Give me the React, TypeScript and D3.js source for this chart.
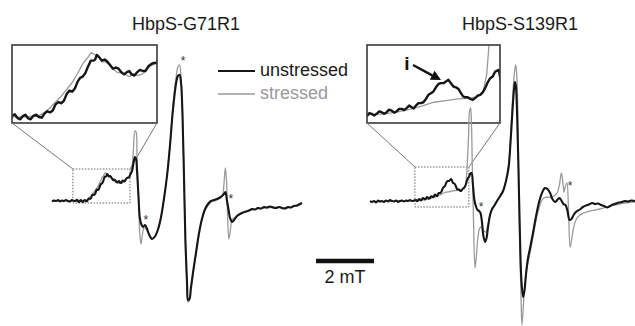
import React from 'react';
import * as d3 from 'd3';

type Pt = [number, number]; // [field (mT), intensity (a.u.)]

const titles = ['HbpS-G71R1', 'HbpS-S139R1'];
const legendLabels = ['unstressed', 'stressed'];
const scaleBarMT = 2;
const scaleBarLabel = '2 mT';
const insetLabel = 'i';

const g71Unstressed: Pt[] = [
  [0, -0.5], [0.07, 0.5], [0.14, 0], [0.21, 1], [0.28, -0.5], [0.34, 0.5], [0.41, 0], [0.48, 1], [0.55, 0], [0.62, -0.5],
  [0.69, 1], [0.76, 0], [0.83, 0.5], [0.865, 1.2], [0.9, -0.5], [0.935, -1], [0.97, 0.5], [1.0, 1], [1.03, -0.5], [1.065, -1],
  [1.1, 0.5], [1.135, 1], [1.17, 0], [1.205, -0.3], [1.24, 1.5], [1.275, 2.5], [1.31, 2], [1.345, 2.8], [1.38, 5.5], [1.415, 6.5],
  [1.45, 6], [1.485, 7], [1.52, 10], [1.555, 11.5], [1.59, 11], [1.625, 12.5], [1.66, 15.5], [1.69, 17], [1.72, 17.5], [1.755, 19],
  [1.79, 22], [1.825, 24.5], [1.86, 24.5], [1.88, 25], [1.9, 27], [1.93, 26], [1.965, 24.5], [2.0, 25], [2.035, 24], [2.07, 22.5],
  [2.105, 21], [2.14, 21.5], [2.175, 21], [2.21, 19.5], [2.245, 18.5], [2.28, 19.5], [2.31, 20], [2.34, 18.5], [2.375, 18], [2.41, 19.5],
  [2.445, 20.5], [2.48, 20], [2.515, 20], [2.55, 22], [2.585, 23], [2.62, 23.5], [2.655, 23.5], [2.69, 26],
  [2.76, 30], [2.81, 38], [2.86, 44], [2.9, 42], [2.93, 31], [2.98, 6], [3.03, -17], [3.09, -24], [3.14, -26],
  [3.21, -24], [3.28, -28], [3.34, -33], [3.45, -38], [3.55, -35.5], [3.66, -28], [3.76, -16], [3.86, 2], [3.97, 26], [4.07, 56],
  [4.17, 91], [4.28, 118], [4.34, 125], [4.4, 126], [4.45, 118], [4.5, 86], [4.55, 26], [4.6, -39], [4.66, -85], [4.69, -99],
  [4.74, -98], [4.79, -87], [4.86, -72], [4.97, -51], [5.07, -32], [5.17, -18], [5.28, -8], [5.38, -3], [5.48, 0], [5.59, 1],
  [5.69, 2], [5.79, 3.5], [5.86, 5], [5.93, 7], [5.98, 9], [6.03, 1], [6.09, -9], [6.14, -17], [6.21, -21], [6.28, -19],
  [6.38, -15], [6.48, -13], [6.59, -11.5], [6.69, -10.5], [6.79, -9.5], [6.9, -8], [7.0, -8.5], [7.1, -7], [7.21, -7.5], [7.31, -6],
  [7.41, -6.5], [7.52, -5.5], [7.62, -6.5], [7.72, -7], [7.83, -6], [7.93, -7], [8.03, -7.5], [8.14, -6], [8.24, -6.5], [8.34, -5],
  [8.45, -4.5], [8.55, -3], [8.62, -2],
];

const g71Stressed: Pt[] = [
  [0, 0], [0.28, 0], [0.62, 0], [0.97, 0], [1.17, 0.5], [1.24, 2], [1.31, 4], [1.38, 6.5], [1.45, 9], [1.52, 12],
  [1.59, 15], [1.66, 19], [1.72, 23], [1.79, 26], [1.83, 28], [1.93, 26], [1.965, 24], [2.0, 24], [2.05, 23], [2.1, 21],
  [2.155, 19.5], [2.21, 19], [2.26, 18.5], [2.31, 17.5], [2.36, 18.8], [2.41, 18], [2.465, 18.5], [2.52, 20], [2.57, 22], [2.62, 23],
  [2.655, 23.5], [2.69, 26], [2.76, 34], [2.81, 53], [2.86, 70], [2.9, 69], [2.93, 46], [2.98, 6],
  [3.03, -34], [3.07, -43], [3.12, -33], [3.17, -27], [3.24, -28], [3.34, -33], [3.45, -37.5], [3.55, -35.5], [3.66, -28], [3.76, -16],
  [3.86, 2], [3.97, 26], [4.07, 57], [4.17, 95], [4.28, 124], [4.34, 134], [4.4, 136], [4.45, 123], [4.5, 89], [4.55, 26],
  [4.6, -41], [4.66, -89], [4.69, -101], [4.74, -99], [4.79, -88], [4.86, -73], [4.97, -52], [5.07, -33], [5.17, -19], [5.28, -9],
  [5.38, -4.5], [5.48, -1.5], [5.59, 0], [5.69, 1], [5.79, 2.5], [5.86, 4], [5.91, 11], [5.95, 25], [5.98, 33], [6.02, 19],
  [6.05, -11], [6.1, -38], [6.16, -27], [6.21, -18], [6.28, -17], [6.38, -15], [6.48, -13.5], [6.66, -11], [6.83, -9.5], [7.17, -7.5],
  [7.52, -6.5], [7.86, -6.5], [8.21, -6.5], [8.62, -2.5],
];

const s139Unstressed: Pt[] = [
  [0, 0], [0.07, -1], [0.14, 0], [0.21, -1.5], [0.28, 0.5], [0.34, -0.5], [0.41, 0], [0.48, -1], [0.55, 0.5], [0.62, -0.5],
  [0.69, 1], [0.76, 0], [0.83, -0.5], [0.9, 0.5], [0.97, -1], [1.03, 0], [1.1, 0.5], [1.17, -0.5], [1.24, 0.5], [1.31, 0],
  [1.38, 1], [1.45, 0], [1.52, 0.5], [1.59, 1], [1.625, -0.3], [1.66, 0.5], [1.69, 2], [1.72, 1.5], [1.755, 0.5], [1.79, 1.5],
  [1.825, 3], [1.86, 2.5], [1.895, 1.5], [1.93, 2.5], [1.965, 4], [2.0, 3.5], [2.035, 2.2], [2.07, 3], [2.105, 4.5], [2.14, 4.5],
  [2.175, 3.8], [2.21, 5], [2.245, 6.5], [2.28, 5.5], [2.31, 4.8], [2.34, 6.5], [2.375, 8], [2.41, 8], [2.445, 8.5], [2.48, 10.5],
  [2.515, 13], [2.55, 14], [2.585, 15], [2.62, 17.5], [2.655, 19.5], [2.69, 20], [2.725, 20], [2.76, 21], [2.795, 22], [2.83, 20],
  [2.865, 18], [2.9, 17.5], [2.935, 16.5], [2.97, 14], [3.0, 12], [3.03, 11.5], [3.065, 11.5], [3.1, 10.5], [3.135, 10], [3.17, 11],
  [3.205, 12.5], [3.24, 13], [3.275, 14.5], [3.31, 17], [3.345, 20.5], [3.38, 23], [3.415, 24], [3.45, 27],
  [3.5, 28], [3.55, 16], [3.6, 1], [3.66, -6], [3.71, -9], [3.76, -10], [3.81, -12], [3.86, -21], [3.91, -35],
  [3.97, -41], [4.02, -37], [4.07, -26], [4.14, -14], [4.21, -8], [4.28, -5], [4.38, 0], [4.48, 4.5], [4.59, 10], [4.69, 20],
  [4.78, 34], [4.84, 56], [4.91, 89], [4.97, 113], [5.0, 119], [5.03, 115], [5.07, 89], [5.12, 31], [5.17, -34], [5.22, -79],
  [5.28, -96], [5.33, -89], [5.38, -73], [5.45, -57], [5.52, -47], [5.62, -32], [5.72, -16], [5.83, -1], [5.93, 8], [6.03, 13],
  [6.12, 12], [6.21, 8], [6.29, 2], [6.38, -1], [6.47, 1.5], [6.53, 3], [6.6, 0.5], [6.67, -3], [6.74, -4], [6.81, -10],
  [6.88, -19], [6.95, -18], [7.03, -13.5], [7.14, -10], [7.24, -8.5], [7.34, -6], [7.45, -4.5], [7.55, -3.5], [7.66, -2], [7.76, -3],
  [7.86, -2.5], [7.97, -4], [8.07, -5], [8.17, -6.5], [8.28, -5], [8.38, -3.5], [8.48, -2.5], [8.59, -1.5], [8.69, -1], [8.79, 0],
  [8.9, -0.5], [9.0, 0.5], [9.14, 0],
];

const s139Stressed: Pt[] = [
  [0, -0.5], [0.34, -0.5], [0.69, 0], [1.03, 0], [1.38, 0], [1.59, 0.5], [1.72, 1], [1.9, 1.5], [2.07, 2.5], [2.24, 4],
  [2.41, 6], [2.59, 8.5], [2.76, 9.5], [2.93, 10.5], [3.1, 11], [3.21, 12], [3.28, 15], [3.33, 25], [3.36, 41], [3.4, 66],
  [3.43, 89], [3.47, 93], [3.5, 76], [3.53, 31], [3.57, -19], [3.62, -67], [3.67, -54], [3.72, -37], [3.79, -27], [3.86, -26],
  [3.93, -30], [4.0, -31], [4.07, -23], [4.14, -14], [4.21, -8], [4.28, -4.5], [4.38, 0.5], [4.48, 5], [4.59, 11], [4.69, 21],
  [4.78, 36], [4.84, 61], [4.91, 99], [4.97, 125], [5.02, 136], [5.05, 131], [5.09, 101], [5.12, 41], [5.16, -34], [5.21, -99],
  [5.24, -124], [5.29, -104], [5.34, -82], [5.41, -67], [5.52, -52], [5.62, -36], [5.72, -20], [5.83, -7], [5.93, 1], [6.03, 3.5],
  [6.14, 4], [6.24, 3.5], [6.34, 5], [6.45, 8], [6.53, 16], [6.6, 28], [6.66, 16], [6.69, 9], [6.74, 15], [6.79, 18],
  [6.84, -4], [6.9, -46], [6.95, -39], [7.02, -27], [7.1, -19], [7.24, -14], [7.41, -11.5], [7.59, -10], [7.76, -9], [7.93, -8],
  [8.1, -6.5], [8.28, -5], [8.45, -4], [8.62, -3], [8.79, -2], [9.14, -1],
];

// asterisk annotations [field, intensity]
const g71Marks: Pt[] = [[3.24, -16], [4.52, 143], [6.17, 5]];
const s139Marks: Pt[] = [[3.83, -3], [6.9, 18]];

// zoomed ranges (data units)
const g71ZoomField = [0.83, 2.66];
const g71ZoomInt = [-2.6, 31.3];
const g71BoxField = [0.72, 2.69];
const g71BoxInt = [-2, 32];
const s139ZoomField = [1.655, 3.517];
const s139ZoomInt = [-4, 43];
const s139BoxField = [1.55, 3.41];
const s139BoxInt = [-6, 34];

const W = 635;
const H = 326;
const FONT = '"Liberation Sans", Arial, Helvetica, sans-serif';
const BLACK = '#161616';
const GRAY = '#9a9a9a';

const yMain = d3.scaleLinear().domain([-130, 140]).range([331, 61]);

interface PanelDef {
  title: string;
  titleX: number;
  x0: number;
  unstressed: Pt[];
  stressed: Pt[];
  marks: Pt[];
  zoomField: number[];
  zoomInt: number[];
  boxField: number[];
  boxInt: number[];
  inset: { x: number; y: number; w: number; h: number };
  id: string;
}

const panels: PanelDef[] = [
  {
    title: titles[0], titleX: 186, x0: 52,
    unstressed: g71Unstressed, stressed: g71Stressed, marks: g71Marks,
    zoomField: g71ZoomField, zoomInt: g71ZoomInt, boxField: g71BoxField, boxInt: g71BoxInt,
    inset: { x: 12, y: 45, w: 145, h: 78 }, id: 'g71',
  },
  {
    title: titles[1], titleX: 520, x0: 370,
    unstressed: s139Unstressed, stressed: s139Stressed, marks: s139Marks,
    zoomField: s139ZoomField, zoomInt: s139ZoomInt, boxField: s139BoxField, boxInt: s139BoxInt,
    inset: { x: 367, y: 45, w: 133, h: 78 }, id: 's139',
  },
];

const PX_PER_MT = 29;

function Panel({ p }: { p: PanelDef }) {
  const x = d3.scaleLinear().domain([0, 10]).range([p.x0, p.x0 + 10 * PX_PER_MT]);
  const main = d3.line<Pt>().x(d => x(d[0])).y(d => yMain(d[1])).curve(d3.curveCatmullRom.alpha(0.5));
  const ix = d3.scaleLinear().domain(p.zoomField).range([p.inset.x, p.inset.x + p.inset.w]);
  const iy = d3.scaleLinear().domain(p.zoomInt).range([p.inset.y + p.inset.h, p.inset.y]);
  const inset = d3.line<Pt>().x(d => ix(d[0])).y(d => iy(d[1])).curve(d3.curveLinear);
  const bx0 = x(p.boxField[0]);
  const bx1 = x(p.boxField[1]);
  const by0 = yMain(p.boxInt[1]);
  const by1 = yMain(p.boxInt[0]);
  const ib = p.inset.y + p.inset.h;
  return (
    <g>
      <text x={p.titleX} y={30} textAnchor="middle" fontSize={18} fill="#1a1a1a" fontFamily={FONT}>{p.title}</text>
      <clipPath id={`clip-${p.id}`}>
        <rect x={p.inset.x} y={p.inset.y} width={p.inset.w} height={p.inset.h} />
      </clipPath>
      <g clipPath={`url(#clip-${p.id})`}>
        <path d={inset(p.stressed) || ''} fill="none" stroke={GRAY} strokeWidth={1.3} />
        <path d={inset(p.unstressed) || ''} fill="none" stroke={BLACK} strokeWidth={2.4} strokeLinejoin="round" />
      </g>
      <rect x={p.inset.x} y={p.inset.y} width={p.inset.w} height={p.inset.h} fill="none" stroke="#3a3a3a" strokeWidth={1.6} />
      <line x1={p.inset.x} y1={ib} x2={bx0} y2={by0} stroke="#777" strokeWidth={1} />
      <line x1={p.inset.x + p.inset.w} y1={ib} x2={bx1} y2={by0} stroke="#777" strokeWidth={1} />
      <rect x={bx0} y={by0} width={bx1 - bx0} height={by1 - by0} fill="none" stroke="#555" strokeWidth={0.9} strokeDasharray="1.5,1.5" />
      <path d={main(p.stressed) || ''} fill="none" stroke={GRAY} strokeWidth={1.3} />
      <path d={main(p.unstressed) || ''} fill="none" stroke={BLACK} strokeWidth={2.1} strokeLinejoin="round" />
      {p.marks.map((m, i) => (
        <text key={i} x={x(m[0])} y={yMain(m[1]) + 7} textAnchor="middle" fontSize={12} fill="#333" fontFamily={FONT}>*</text>
      ))}
    </g>
  );
}

export default function App() {
  const xBar = d3.scaleLinear().domain([0, 10]).range([316, 316 + 10 * PX_PER_MT]);
  const ax0 = 413, ay0 = 65, ax1 = 441, ay1 = 80;
  const ang = Math.atan2(ay1 - ay0, ax1 - ax0);
  const hl = 10, hw = 5;
  const bxp = ax1 - hl * Math.cos(ang), byp = ay1 - hl * Math.sin(ang);
  const head = [
    [ax1, ay1],
    [bxp + hw * Math.sin(ang), byp - hw * Math.cos(ang)],
    [bxp - hw * Math.sin(ang), byp + hw * Math.cos(ang)],
  ].map(q => q.join(',')).join(' ');
  return (
    <svg width={W} height={H} style={{ position: 'fixed', left: 0, top: 0, background: '#fff' }}>
      <rect x={0} y={0} width={W} height={H} fill="#fff" />
      {panels.map(p => <Panel key={p.id} p={p} />)}
      {/* legend */}
      <line x1={218} x2={255} y1={71} y2={71} stroke={BLACK} strokeWidth={2} />
      <text x={260} y={76} fontSize={18} fill="#1a1a1a" fontFamily={FONT}>{legendLabels[0]}</text>
      <line x1={218} x2={255} y1={94} y2={94} stroke={GRAY} strokeWidth={1.6} />
      <text x={260} y={99} fontSize={18} fill={GRAY} fontFamily={FONT}>{legendLabels[1]}</text>
      {/* scale bar */}
      <line x1={xBar(0)} x2={xBar(scaleBarMT)} y1={261} y2={261} stroke="#111" strokeWidth={4.5} />
      <text x={(xBar(0) + xBar(scaleBarMT)) / 2} y={283} textAnchor="middle" fontSize={18} fill="#1a1a1a" fontFamily={FONT}>{scaleBarLabel}</text>
      {/* inset annotation */}
      <text x={407} y={70} textAnchor="middle" fontSize={19} fontWeight="bold" fill="#111" fontFamily={FONT}>{insetLabel}</text>
      <line x1={ax0} y1={ay0} x2={bxp} y2={byp} stroke="#111" strokeWidth={2.5} />
      <polygon points={head} fill="#111" />
    </svg>
  );
}
